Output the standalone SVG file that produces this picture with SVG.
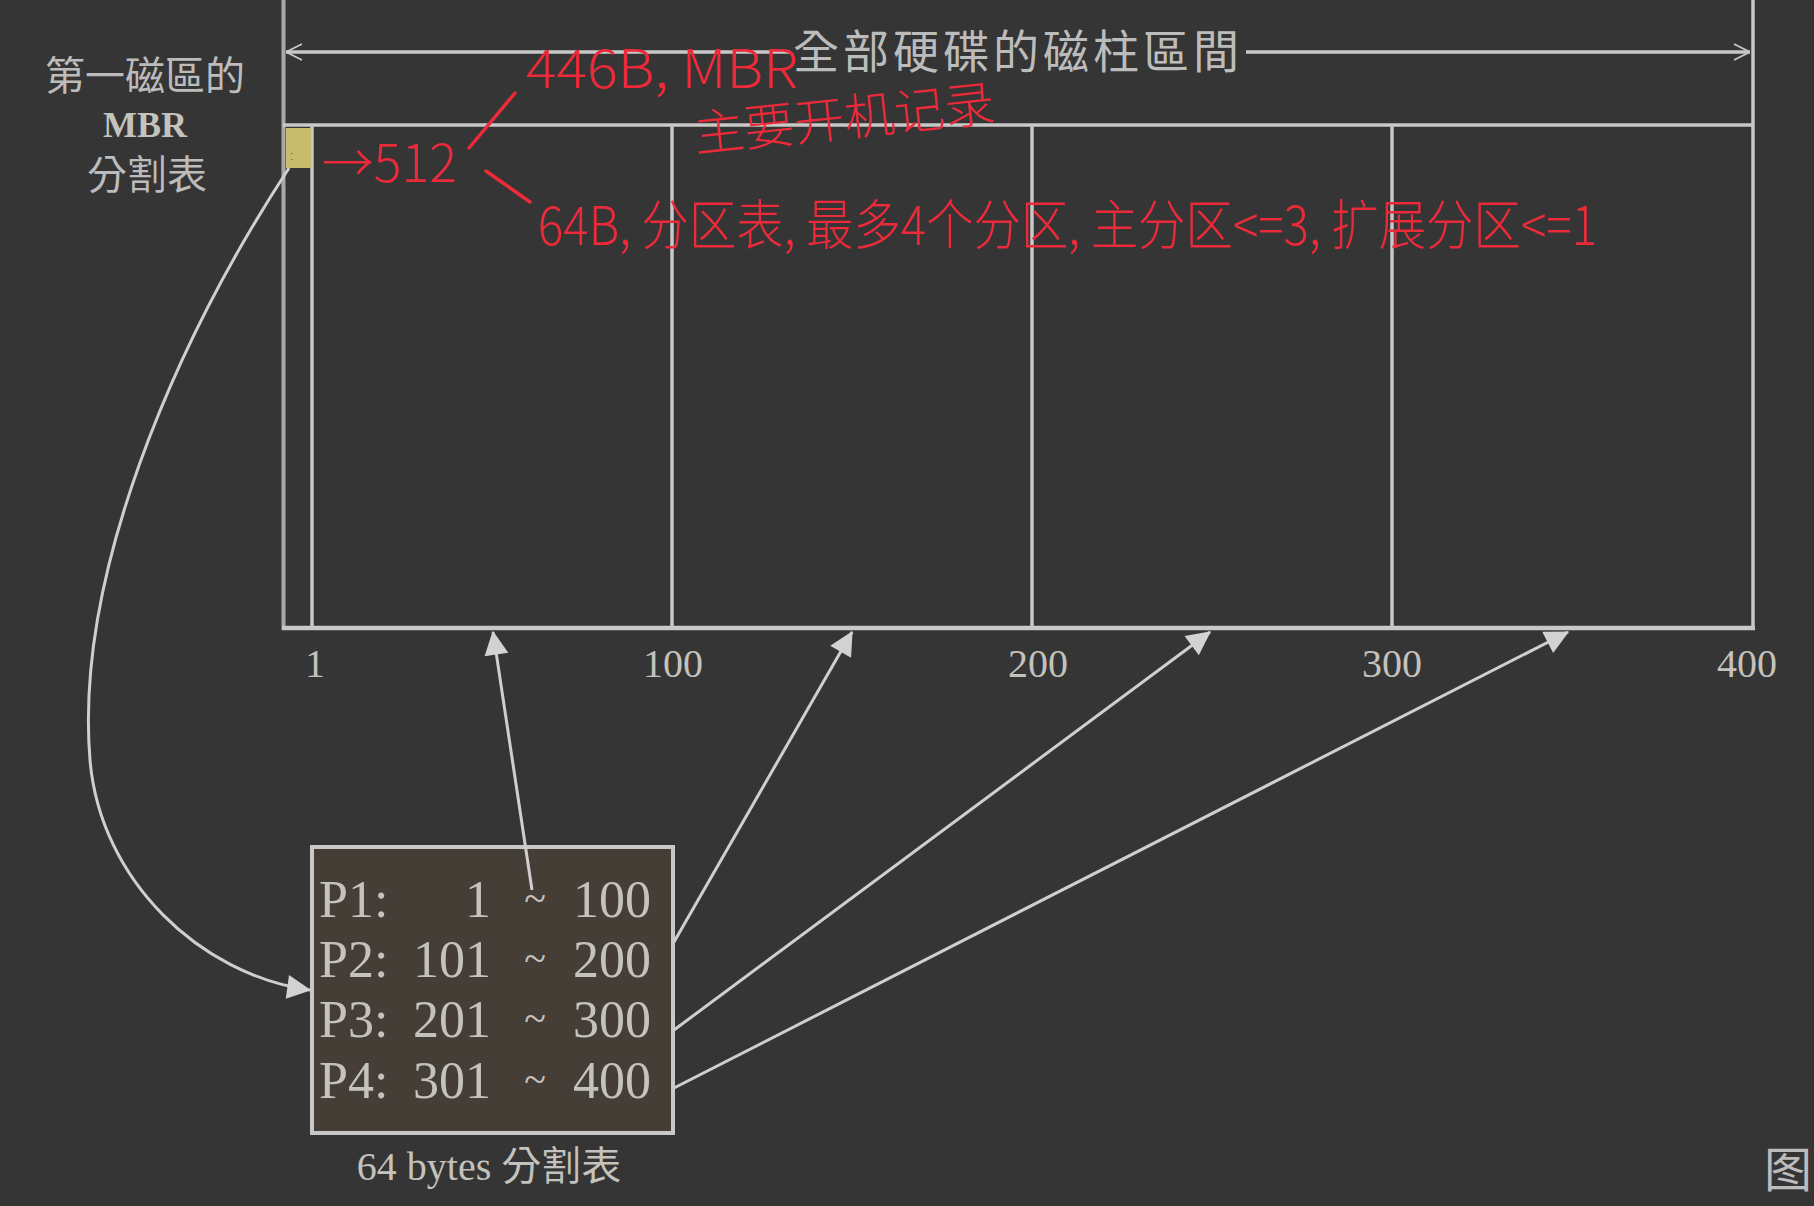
<svg xmlns="http://www.w3.org/2000/svg" width="1814" height="1206" viewBox="0 0 1814 1206">
<style>
.ln{stroke:#c8c8c8;stroke-width:3.5;fill:none}
.cn{stroke:#cfcfcf;stroke-width:3;fill:none}
.lbl{font-family:"Noto Sans CJK TC","Noto Sans CJK SC",sans-serif;fill:#bcbcbc}
.ser{font-family:"Liberation Serif","Noto Sans CJK TC",serif;fill:#c4c2bc}
.red{font-family:"Noto Sans CJK SC",sans-serif;fill:#ec2a3a;font-weight:300}
.redl{stroke:#ec2a3a;stroke-width:3.5;fill:none;stroke-linecap:round}
</style>
<defs>
<marker id="ahb" viewBox="0 0 10 10" refX="9.5" refY="5" markerWidth="40" markerHeight="24" markerUnits="userSpaceOnUse" orient="auto">
<path d="M0,0 L10,5 L0,10 z" fill="#d2d2d2"/>
</marker>
<marker id="chev" viewBox="0 0 10 10" refX="10" refY="5" markerWidth="16" markerHeight="24" markerUnits="userSpaceOnUse" orient="auto-start-reverse">
<path d="M0,0 L10,5 L0,10" fill="none" stroke="#c8c8c8" stroke-width="1.2"/>
</marker>
</defs>
<rect width="1814" height="1206" fill="#353535"/>

<g id="disk">
<line x1="283.5" y1="0" x2="283.5" y2="630" stroke="#a8a8a8" stroke-width="4"/>
<line x1="1753" y1="0" x2="1753" y2="630" class="ln"/>
<line x1="283" y1="125" x2="1753" y2="125" class="ln"/>
<line x1="282" y1="628" x2="1755" y2="628" stroke="#c8c8c8" stroke-width="4.5"/>
<line x1="312" y1="125" x2="312" y2="628" class="ln"/>
<line x1="672" y1="125" x2="672" y2="628" class="ln"/>
<line x1="1032" y1="125" x2="1032" y2="628" class="ln"/>
<line x1="1392" y1="125" x2="1392" y2="628" class="ln"/>
<rect x="286" y="128" width="25" height="40" fill="#c8bd6c"/>
<text x="290" y="160" font-family="Liberation Sans, sans-serif" font-size="12" fill="#6a6a4a">:</text>
</g>

<g id="ticks" class="ser" font-size="40" text-anchor="middle">
<text x="315" y="677">1</text>
<text x="673" y="677">100</text>
<text x="1038" y="677">200</text>
<text x="1392" y="677">300</text>
<text x="1747" y="677">400</text>
</g>

<g id="span">
<line x1="286" y1="52" x2="790" y2="52" class="ln" marker-start="url(#chev)"/>
<line x1="1246" y1="52" x2="1750" y2="52" class="ln" marker-end="url(#chev)"/>
<text x="1018" y="68" class="lbl" font-size="46" text-anchor="middle" letter-spacing="4">全部硬碟的磁柱區間</text>
</g>

<g id="mbr-label" text-anchor="middle">
<text x="145" y="90" class="lbl" font-size="40">第一磁區的</text>
<text x="145" y="137" class="ser" font-size="36" font-weight="bold">MBR</text>
<text x="147" y="189" class="lbl" font-size="40">分割表</text>
</g>

<g id="table">
<rect x="312" y="847" width="361" height="286" fill="#443e37" stroke="#c8c8c8" stroke-width="4"/>
<g class="ser" font-size="52">
<text x="319" y="917">P1:</text>
<text x="319" y="977">P2:</text>
<text x="319" y="1037">P3:</text>
<text x="319" y="1098">P4:</text>
</g>
<g class="ser" font-size="52" text-anchor="end">
<text x="491" y="917">1</text>
<text x="491" y="977">101</text>
<text x="491" y="1037">201</text>
<text x="491" y="1098">301</text>
<text x="651" y="917">100</text>
<text x="651" y="977">200</text>
<text x="651" y="1037">300</text>
<text x="651" y="1098">400</text>
</g>
<g class="ser" font-size="40" text-anchor="middle">
<text x="535" y="912">~</text>
<text x="535" y="972">~</text>
<text x="535" y="1032">~</text>
<text x="535" y="1093">~</text>
</g>
<text x="489" y="1180" class="ser" font-size="40" text-anchor="middle">64 bytes 分割表</text>
</g>

<g id="connectors">
<path d="M289,168 C170,350 75,580 90,760 C100,880 200,975 310,990" class="cn" marker-end="url(#ahb)"/>
<line x1="532" y1="890" x2="493" y2="632" class="cn" marker-end="url(#ahb)"/>
<line x1="674" y1="942" x2="852" y2="632" class="cn" marker-end="url(#ahb)"/>
<line x1="674" y1="1030" x2="1210" y2="632" class="cn" marker-end="url(#ahb)"/>
<line x1="674" y1="1088" x2="1568" y2="632" class="cn" marker-end="url(#ahb)"/>
</g>

<g id="annotations">
<text x="526" y="88" class="red" font-size="54" textLength="272" lengthAdjust="spacingAndGlyphs">446B, MBR</text>
<text x="696" y="152" class="red" font-size="50" textLength="302" lengthAdjust="spacingAndGlyphs" transform="rotate(-6 696 152)">主要开机记录</text>
<text x="322" y="182" class="red" font-size="52" textLength="135" lengthAdjust="spacingAndGlyphs">→512</text>
<line x1="469" y1="148" x2="515" y2="93" class="redl"/>
<line x1="486" y1="171" x2="530" y2="202" class="redl"/>
<text x="538" y="245" class="red" font-size="54" textLength="1059" lengthAdjust="spacingAndGlyphs">64B, 分区表, 最多4个分区, 主分区&lt;=3, 扩展分区&lt;=1</text>
</g>

<text x="1764" y="1187" class="lbl" font-size="48" font-family="Noto Sans CJK SC, sans-serif">图</text>
</svg>
